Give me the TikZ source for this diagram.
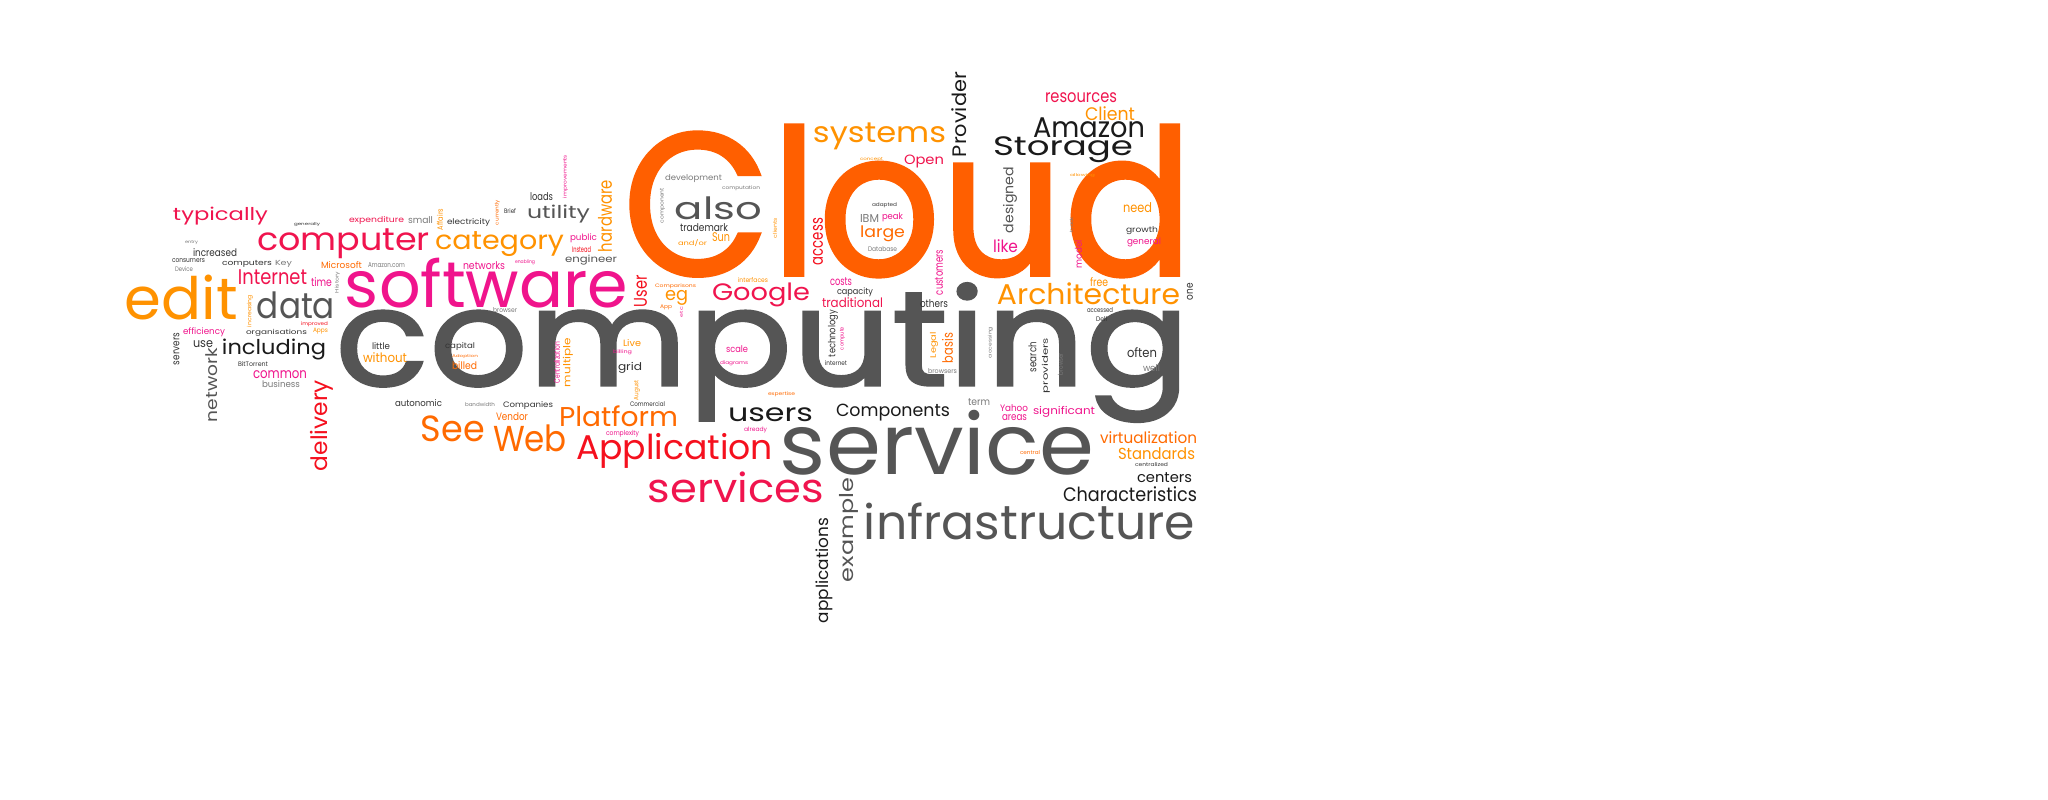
\documentclass[tikz,border=0pt]{standalone}
\usepackage{fontspec}
\setmainfont{Poppins}
\newfontfamily\heavyfont{Poppins}[FakeBold=1.5]
\usepackage{graphicx}
\usepackage{xcolor}
\usepackage{tikz}
\definecolor{cloudorange}{HTML}{FF5F00}
\definecolor{darkgray}{HTML}{555555}
\definecolor{nearblack}{HTML}{1A1A1A}
\definecolor{darktext}{HTML}{333333}
\definecolor{midgray}{HTML}{7A7A7A}
\definecolor{hotpink}{HTML}{F0148C}
\definecolor{crimson}{HTML}{F0144E}
\definecolor{brightred}{HTML}{F5101E}
\definecolor{amber}{HTML}{FF9200}
\definecolor{orangered}{HTML}{FF6A00}
\tikzstyle{word} = [inner sep=0pt, outer sep=0pt, anchor=center]
\tikzstyle{vword} = [word, rotate=90]
\newcommand{\wf}[3]{\resizebox*{#1pt}{#2pt}{#3}}

\begin{document}
\begin{tikzpicture}[x=1pt, y=-1pt]
\fill [white] (0,0) rectangle (2048,800);
\useasboundingbox (0,0) rectangle (2048,800);
\node (cloud) [word, text=cloudorange, font=\heavyfont] at (908,201) {\wf{570}{152}{Cloud}};
\node (computing) [word, text=darkgray, font=\heavyfont] at (762.5,352.5) {\wf{855}{139}{computing}};
\node (service) [word, text=darkgray] at (937,442.5) {\wf{314}{65}{service}};
\node (software) [word, text=hotpink] at (486.5,283) {\wf{283}{50}{software}};
\node (infrastructure) [word, text=darkgray] at (1029.5,521.5) {\wf{331}{37}{infrastructure}};
\node (services) [word, text=crimson] at (736,487.5) {\wf{176}{31}{services}};
\node (application) [word, text=brightred] at (674.5,450.5) {\wf{197}{35}{Application}};
\node (architecture) [word, text=amber] at (1088.5,294) {\wf{183}{22}{Architecture}};
\node (storage) [word, text=nearblack] at (1063,150) {\wf{140}{26}{Storage}};
\node (amazon) [word, text=nearblack] at (1089,128) {\wf{112}{20}{Amazon}};
\node (edit) [word, text=amber] at (181.5,297.5) {\wf{113}{45}{edit}};
\node (computer) [word, text=crimson] at (343.5,244) {\wf{173}{30}{computer}};
\node (category) [word, text=amber] at (499.5,244.5) {\wf{129}{25}{category}};
\node (data) [word, text=darkgray] at (296,305.5) {\wf{78}{27}{data}};
\node (systems) [word, text=amber] at (879.5,136.5) {\wf{133}{27}{systems}};
\node (google) [word, text=crimson] at (761,295) {\wf{98}{24}{Google}};
\node (also) [word, text=darkgray] at (718.5,208.5) {\wf{87}{23}{also}};
\node (provider) [vword, text=nearblack] at (959.5,114.5) {\wf{85}{15}{Provider}};
\node (users) [word, text=nearblack] at (770.5,415) {\wf{85}{14}{users}};
\node (components) [word, text=nearblack] at (893,412.5) {\wf{114}{17}{Components}};
\node (platform) [word, text=orangered] at (618.5,416.5) {\wf{119}{21}{Platform}};
\node (see) [word, text=orangered] at (453,429) {\wf{64}{26}{See}};
\node (web) [word, text=orangered] at (530,438.5) {\wf{74}{27}{Web}};
\node (delivery) [vword, text=brightred] at (321.5,425.5) {\wf{91}{23}{delivery}};
\node (network) [vword, text=darkgray] at (212,385) {\wf{74}{12}{network}};
\node (including) [word, text=nearblack] at (274,349.5) {\wf{104}{21}{including}};
\node (utility) [word, text=darkgray] at (558.5,214) {\wf{63}{18}{utility}};
\node (typically) [word, text=crimson] at (220.5,216) {\wf{95}{18}{typically}};
\node (internet) [word, text=crimson] at (272.5,277.5) {\wf{69}{15}{Internet}};
\node (hardware) [vword, text=amber] at (605,216) {\wf{72}{14}{hardware}};
\node (example) [vword, text=darkgray] at (848.5,530) {\wf{104}{19}{example}};
\node (applications) [vword, text=nearblack] at (824.5,570.5) {\wf{105}{17}{applications}};
\node (characteristics) [word, text=nearblack] at (1130,494.5) {\wf{134}{15}{Characteristics}};
\node (centers) [word, text=nearblack] at (1164.5,478) {\wf{55}{10}{centers}};
\node (standards) [word, text=amber] at (1156.5,454) {\wf{77}{12}{Standards}};
\node (virtualization) [word, text=orangered] at (1148.5,438) {\wf{97}{12}{virtualization}};
\node (significant) [word, text=hotpink] at (1064,411.5) {\wf{62}{11}{significant}};
\node (yahoo) [word, text=hotpink] at (1014,408.5) {\wf{28}{7}{Yahoo}};
\node (areas) [word, text=hotpink] at (1014.5,418) {\wf{25}{6}{areas}};
\node (term) [word, text=midgray] at (979,402.5) {\wf{22}{7}{term}};
\node (often) [word, text=darktext] at (1142,353) {\wf{30}{10}{often}};
\node (well) [word, text=midgray] at (1151.5,368.5) {\wf{17}{7}{well}};
\node (providers) [vword, text=darktext] at (1046,365.5) {\wf{55}{8}{providers}};
\node (search) [vword, text=darktext] at (1032.5,357) {\wf{30}{8}{search}};
\node (browser) [vword, text=midgray] at (1060.5,364) {\wf{22}{5}{browser}};
\node (accessing) [vword, text=midgray] at (990.5,342.5) {\wf{31}{5}{accessing}};
\node (legal) [vword, text=amber] at (934,345) {\wf{26}{8}{Legal}};
\node (basis) [vword, text=orangered] at (947.5,348) {\wf{30}{11}{basis}};
\node (browsers) [word, text=midgray] at (942.5,371.5) {\wf{29}{5}{browsers}};
\node (central) [word, text=orangered] at (1030,453) {\wf{20}{4}{central}};
\node (centralized) [word, text=darktext] at (1151.5,465) {\wf{33}{4}{centralized}};
\node (accessed) [word, text=darktext] at (1100,310.5) {\wf{26}{5}{accessed}};
\node (dell) [word, text=darktext] at (1101.5,319.5) {\wf{11}{5}{Dell}};
\node (one) [vword, text=darktext] at (1190,291.5) {\wf{17}{6}{one}};
\node (free) [word, text=amber] at (1099,282.5) {\wf{18}{9}{free}};
\node (need) [word, text=amber] at (1137.5,208) {\wf{29}{10}{need}};
\node (growth) [word, text=darktext] at (1142,231) {\wf{32}{8}{growth}};
\node (general) [word, text=hotpink] at (1144,242.5) {\wf{34}{9}{general}};
\node (like) [word, text=hotpink] at (1005.5,246.5) {\wf{25}{13}{like}};
\node (designed) [vword, text=darkgray] at (1010,200) {\wf{66}{14}{designed}};
\node (allowing) [word, text=amber] at (1082.5,176) {\wf{25}{4}{allowing}};
\node (back) [vword, text=midgray] at (1071.5,224.5) {\wf{15}{3}{back}};
\node (model) [vword, text=hotpink] at (1078.5,254) {\wf{28}{7}{model}};
\node (resources) [word, text=crimson] at (1081,98) {\wf{72}{10}{resources}};
\node (client) [word, text=amber] at (1110,114) {\wf{50}{14}{Client}};
\node (open) [word, text=crimson] at (924,161.5) {\wf{40}{13}{Open}};
\node (concept) [word, text=amber] at (871.5,160) {\wf{23}{4}{concept}};
\node (access) [vword, text=brightred] at (818,241.5) {\wf{47}{10}{access}};
\node (clients) [vword, text=amber] at (775,228) {\wf{20}{4}{clients}};
\node (adapted) [word, text=darktext] at (884.5,205) {\wf{25}{5}{adapted}};
\node (ibm) [word, text=midgray] at (869.5,218) {\wf{19}{8}{IBM}};
\node (peak) [word, text=hotpink] at (892.5,217.5) {\wf{21}{9}{peak}};
\node (large) [word, text=orangered] at (882.5,234) {\wf{45}{16}{large}};
\node (database) [word, text=midgray] at (882.5,249.5) {\wf{29}{5}{Database}};
\node (development) [word, text=midgray] at (693.5,179) {\wf{57}{8}{development}};
\node (computation) [word, text=midgray] at (741,188.5) {\wf{38}{5}{computation}};
\node (component) [vword, text=midgray] at (662.5,205.5) {\wf{35}{5}{component}};
\node (trademark) [word, text=darktext] at (704,228) {\wf{48}{8}{trademark}};
\node (sun) [word, text=amber] at (721,237.5) {\wf{18}{9}{Sun}};
\node (andor) [word, text=amber] at (692.5,243.5) {\wf{29}{7}{and/or}};
\node (comparisons) [word, text=orangered] at (675.5,286.5) {\wf{41}{5}{Comparisons}};
\node (interfaces) [word, text=amber] at (753,280.5) {\wf{30}{5}{interfaces}};
\node (eg) [word, text=amber] at (676.5,297.5) {\wf{23}{15}{eg}};
\node (app) [word, text=orangered] at (666,307.5) {\wf{12}{5}{App}};
\node (etc) [vword, text=hotpink] at (681.5,312) {\wf{10}{3}{etc}};
\node (costs) [word, text=hotpink] at (841,282) {\wf{22}{8}{costs}};
\node (capacity) [word, text=darktext] at (855,292.5) {\wf{36}{9}{capacity}};
\node (traditional) [word, text=crimson] at (852.5,303) {\wf{61}{10}{traditional}};
\node (user) [vword, text=brightred] at (640.5,291) {\wf{32}{13}{User}};
\node (others) [word, text=darktext] at (934,304) {\wf{28}{8}{others}};
\node (customers) [vword, text=hotpink] at (939,272.5) {\wf{45}{8}{customers}};
\node (scale) [word, text=hotpink] at (737,349.5) {\wf{22}{7}{scale}};
\node (diagrams) [word, text=hotpink] at (734,363.5) {\wf{28}{5}{diagrams}};
\node (technology) [vword, text=darktext] at (833,333.5) {\wf{47}{10}{technology}};
\node (compute) [vword, text=hotpink] at (842.5,338.5) {\wf{23}{5}{compute}};
\node (internetsmall) [word, text=darktext] at (836,363.5) {\wf{22}{5}{internet}};
\node (expertise) [word, text=orangered] at (781.5,394.5) {\wf{27}{5}{expertise}};
\node (already) [word, text=hotpink] at (755.5,430) {\wf{23}{6}{already}};
\node (complexity) [word, text=hotpink] at (622.5,433.5) {\wf{33}{7}{complexity}};
\node (commercial) [word, text=darktext] at (647.5,404.5) {\wf{35}{5}{Commercial}};
\node (august) [vword, text=amber] at (637,390) {\wf{20}{6}{August}};
\node (grid) [word, text=darktext] at (630,367.5) {\wf{24}{11}{grid}};
\node (live) [word, text=amber] at (632,343.5) {\wf{18}{7}{Live}};
\node (billing) [word, text=hotpink] at (622.5,352.5) {\wf{19}{5}{billing}};
\node (multiple) [vword, text=amber] at (568,362.5) {\wf{49}{10}{multiple}};
\node (centralization) [vword, text=hotpink] at (557,362.5) {\wf{41}{6}{Centralization}};
\node (capital) [word, text=darktext] at (460,347) {\wf{30}{8}{capital}};
\node (adoption) [word, text=orangered] at (465,357) {\wf{26}{4}{Adoption}};
\node (billed) [word, text=orangered] at (464.5,366) {\wf{25}{8}{billed}};
\node (little) [word, text=darktext] at (381,346.5) {\wf{18}{7}{little}};
\node (without) [word, text=amber] at (385,358) {\wf{44}{10}{without}};
\node (autonomic) [word, text=darktext] at (418.5,403.5) {\wf{47}{7}{autonomic}};
\node (bandwidth) [word, text=midgray] at (480,405) {\wf{30}{4}{bandwidth}};
\node (companies) [word, text=darktext] at (528,406) {\wf{50}{8}{Companies}};
\node (vendor) [word, text=orangered] at (512,417) {\wf{32}{8}{Vendor}};
\node (servers) [vword, text=darktext] at (176.5,349) {\wf{32}{6}{servers}};
\node (use) [word, text=darktext] at (203,344.5) {\wf{20}{7}{use}};
\node (bittorrent) [word, text=darktext] at (253,364.5) {\wf{30}{5}{BitTorrent}};
\node (common) [word, text=hotpink] at (280,375) {\wf{54}{8}{common}};
\node (business) [word, text=midgray] at (281,384.5) {\wf{38}{7}{business}};
\node (efficiency) [word, text=hotpink] at (204,332.5) {\wf{42}{9}{efficiency}};
\node (organisations) [word, text=darktext] at (276.5,332.5) {\wf{61}{7}{organisations}};
\node (improved) [word, text=brightred] at (314.5,324.5) {\wf{27}{5}{improved}};
\node (apps) [word, text=amber] at (320.5,331) {\wf{15}{6}{Apps}};
\node (increasing) [vword, text=amber] at (250,311) {\wf{32}{6}{increasing}};
\node (time) [word, text=hotpink] at (321.5,282.5) {\wf{21}{9}{time}};
\node (history) [vword, text=midgray] at (337.5,282.5) {\wf{21}{5}{History}};
\node (microsoft) [word, text=orangered] at (341.5,265.5) {\wf{41}{7}{Microsoft}};
\node (amazoncom) [word, text=midgray] at (386.5,265.5) {\wf{37}{5}{Amazon.com}};
\node (networks) [word, text=hotpink] at (484,266) {\wf{42}{8}{networks}};
\node (enabling) [word, text=hotpink] at (525,262.5) {\wf{20}{5}{enabling}};
\node (engineer) [word, text=darkgray] at (591,260) {\wf{52}{10}{engineer}};
\node (instead) [word, text=brightred] at (581.5,250) {\wf{19}{6}{Instead}};
\node (public) [word, text=hotpink] at (583.5,238.5) {\wf{27}{9}{public}};
\node (loads) [word, text=darktext] at (541.5,197) {\wf{23}{8}{loads}};
\node (brief) [word, text=darktext] at (510,211.5) {\wf{12}{5}{Brief}};
\node (improvements) [vword, text=hotpink] at (565.5,176.5) {\wf{43}{5}{improvements}};
\node (currently) [vword, text=orangered] at (497.5,212.5) {\wf{25}{5}{currently}};
\node (affairs) [vword, text=amber] at (440,219.5) {\wf{21}{6}{Affairs}};
\node (electricity) [word, text=darktext] at (468.5,223) {\wf{43}{8}{electricity}};
\node (small) [word, text=midgray] at (420.5,220.5) {\wf{25}{7}{small}};
\node (expenditure) [word, text=crimson] at (376.5,221) {\wf{55}{8}{expenditure}};
\node (browsersmall) [word, text=midgray] at (505,310.5) {\wf{24}{5}{browser}};
\node (generally) [word, text=darktext] at (307,225) {\wf{26}{4}{generally}};
\node (entry) [word, text=midgray] at (191.5,243) {\wf{13}{4}{entry}};
\node (increased) [word, text=darktext] at (215,253) {\wf{44}{8}{increased}};
\node (consumers) [word, text=darktext] at (188.5,261) {\wf{33}{4}{consumers}};
\node (computers) [word, text=darktext] at (247,263.5) {\wf{50}{7}{computers}};
\node (key) [word, text=midgray] at (283.5,263.5) {\wf{17}{7}{Key}};
\node (device) [word, text=midgray] at (184,269.5) {\wf{18}{5}{Device}};
\end{tikzpicture}
\end{document}
